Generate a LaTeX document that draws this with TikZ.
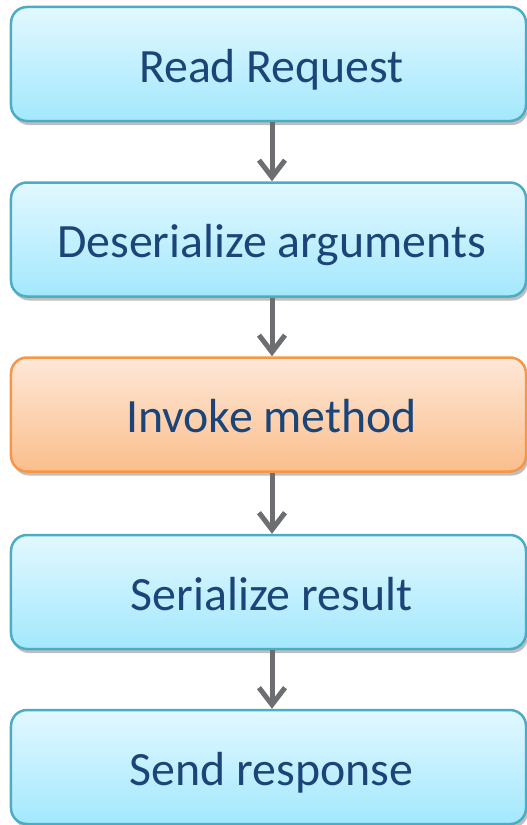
\documentclass[tikz,border=0pt]{standalone}
\usepackage{fontspec}
\setmainfont{Carlito}
\usetikzlibrary{arrows.meta,shadows}
\definecolor{blueTop}{HTML}{E2F8FF}
\definecolor{blueBot}{HTML}{A3E8FD}
\definecolor{blueLine}{HTML}{4BACC6}
\definecolor{orTop}{HTML}{FDE8D8}
\definecolor{orBot}{HTML}{FBBE8C}
\definecolor{orLine}{HTML}{F79646}
\definecolor{txt}{HTML}{1B4578}
\definecolor{arrowgray}{HTML}{6D6E71}
\tikzset{
  stepbox/.style={draw=blueLine, line width=2.5bp, rounded corners=16bp,
    top color=blueTop, bottom color=blueBot,
    minimum width=515bp, minimum height=114bp, inner sep=0pt,
    text height=40bp, text depth=4bp,
    text=txt, font=\fontsize{48}{56}\selectfont,
    drop shadow={shadow xshift=2bp, shadow yshift=-4bp, opacity=0.25, fill=black}},
  hotbox/.style={stepbox, draw=orLine, top color=orTop, bottom color=orBot},
  flow/.style={draw=arrowgray, line width=5bp, -{Straight Barb[length=17bp, width=26bp, line width=5bp]}}
}
\begin{document}
\begin{tikzpicture}[x=1bp, y=-1bp]
\useasboundingbox (0,0) rectangle (527,825);
\node[stepbox] (a) at (268.5,64) {\hspace*{6bp}Read Request};
\node[stepbox] (b) at (268.5,239.5) {\hspace*{6bp}Deserialize arguments};
\node[hotbox]  (c) at (268.5,414.5) {\hspace*{6bp}Invoke method};
\node[stepbox] (d) at (268.5,592) {\hspace*{6bp}Serialize result};
\node[stepbox] (e) at (268.5,767) {\hspace*{6bp}Send response};
\draw[flow] ([xshift=3.5bp]a.south) -- ([xshift=3.5bp]b.north);
\draw[flow] ([xshift=3.5bp]b.south) -- ([xshift=3.5bp]c.north);
\draw[flow] ([xshift=3.5bp]c.south) -- ([xshift=3.5bp]d.north);
\draw[flow] ([xshift=3.5bp]d.south) -- ([xshift=3.5bp]e.north);
\end{tikzpicture}
\end{document}
